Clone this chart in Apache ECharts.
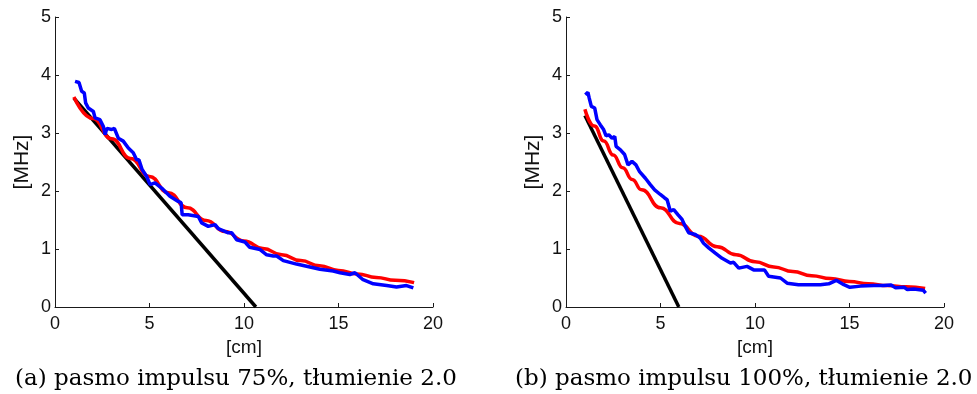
<!DOCTYPE html>
<html>
<head>
<meta charset="utf-8">
<script src="https://cdn.jsdelivr.net/npm/echarts@6/dist/echarts.min.js"></script>
<style>
html,body{margin:0;padding:0;background:#fff;}
#chart{width:977px;height:394px;}
</style>
</head>
<body>
<div id="chart"></div>
<script>
// ---- data ----
var xTicks = [0, 5, 10, 15, 20];
var yTicks = [0, 1, 2, 3, 4, 5];
var captionA = '(a) pasmo impulsu 75%, tłumienie 2.0';
var captionB = '(b) pasmo impulsu 100%, tłumienie 2.0';
var xName = '[cm]';
var yName = '[MHz]';

// panel (a)
var aBlueX = [1.06,1.27,1.41,1.55,1.62,1.76,2.03,2.12,2.38,2.56,2.65,2.74,3.00,3.14,3.35,3.61,3.88,4.14,4.32,4.44,4.61,4.85,5.03,5.29,5.64,6.08,6.52,6.67,6.73,7.05,7.58,7.76,8.11,8.47,8.64,9.17,9.35,9.61,10.05,10.30,10.85,11.20,11.55,11.73,12.08,12.78,13.49,14.02,14.72,15.08,15.60,15.87,16.30,16.84,17.55,18.07,18.60,18.96];
var aBlueY = [3.89,3.87,3.72,3.69,3.52,3.43,3.37,3.26,3.23,3.11,2.97,3.08,3.06,3.08,2.91,2.86,2.74,2.66,2.54,2.54,2.37,2.25,2.11,2.14,2.05,1.91,1.82,1.80,1.59,1.59,1.56,1.45,1.39,1.42,1.35,1.28,1.28,1.16,1.12,1.03,0.99,0.90,0.88,0.88,0.80,0.74,0.69,0.65,0.62,0.59,0.56,0.59,0.47,0.40,0.37,0.345,0.37,0.33];
var aRedX = [1,2,3,4,5,6,7,8,9,10,11,12,13,14,15,16,17,18,19];
var aRedY = [3.62,3.25,2.90,2.56,2.25,1.97,1.71,1.49,1.30,1.14,1.01,0.90,0.80,0.71,0.63,0.57,0.51,0.46,0.42];
var aBlackX = [1, 10.63];
var aBlackY = [3.60, 0];

// panel (b)
var bBlueX = [1.02,1.16,1.23,1.34,1.52,1.64,1.82,1.99,2.12,2.26,2.44,2.58,2.65,2.88,3.10,3.28,3.49,3.70,3.88,4.20,4.46,4.69,4.99,5.22,5.35,5.52,5.70,5.93,6.14,6.31,6.49,6.84,7.10,7.28,7.55,7.90,8.26,8.70,8.87,9.14,9.58,9.93,10.50,10.72,11.35,11.70,12.30,13.46,13.90,14.30,14.70,15.02,15.59,16.29,16.82,17.20,17.44,17.90,18.06,18.41,18.90,19.03];
var bBlueY = [3.66,3.70,3.60,3.46,3.43,3.23,3.14,3.06,2.95,2.97,2.91,2.94,2.77,2.71,2.63,2.45,2.51,2.45,2.34,2.22,2.11,2.02,1.94,1.88,1.85,1.65,1.68,1.59,1.51,1.39,1.28,1.25,1.19,1.10,1.02,0.93,0.84,0.76,0.77,0.67,0.70,0.64,0.64,0.53,0.50,0.41,0.385,0.385,0.40,0.46,0.385,0.34,0.36,0.37,0.37,0.38,0.33,0.34,0.30,0.31,0.29,0.24];
var bRedX = [1,1.5,2,2.5,3,3.5,4,5,6,7,8,9,10,11,12,13,14,15,16,17,18,19];
var bRedY = [3.41,3.12,2.86,2.62,2.40,2.20,2.02,1.71,1.44,1.22,1.04,0.90,0.78,0.69,0.61,0.54,0.49,0.44,0.40,0.37,0.35,0.32];
var bBlackX = [1, 5.97];
var bBlackY = [3.30, 0];

function pairs(xs, ys){ return xs.map(function(x,i){ return [x, ys[i]]; }); }

var axisColor = '#1a1a1a';
var tickFont = {fontFamily:'Liberation Sans, Arial, sans-serif', fontSize:18, color:'#111'};

function xAxis(gi){
  return {
    type:'value', gridIndex:gi, min:xTicks[0], max:xTicks[xTicks.length-1], interval:xTicks[1]-xTicks[0],
    name:xName, nameLocation:'middle', nameGap:25,
    nameTextStyle:{fontFamily:'Liberation Sans, Arial, sans-serif', fontSize:19, color:'#111'},
    axisLine:{show:true, onZero:false, lineStyle:{color:axisColor, width:1}},
    axisTick:{show:true, inside:true, length:4, lineStyle:{color:axisColor}},
    axisLabel:Object.assign({margin:8}, tickFont),
    splitLine:{show:false}
  };
}
function yAxis(gi){
  return {
    type:'value', gridIndex:gi, min:yTicks[0], max:yTicks[yTicks.length-1], interval:yTicks[1]-yTicks[0],
    name:yName, nameLocation:'middle', nameGap:22, nameRotate:90,
    nameTextStyle:{fontFamily:'Liberation Sans, Arial, sans-serif', fontSize:21, color:'#111'},
    axisLine:{show:true, onZero:false, lineStyle:{color:axisColor, width:1}},
    axisTick:{show:true, inside:true, length:4, lineStyle:{color:axisColor}},
    axisLabel:Object.assign({margin:4}, tickFont),
    splitLine:{show:false}
  };
}
function line(gi, data, color, z, smooth){
  return {type:'line', xAxisIndex:gi, yAxisIndex:gi, data:data, showSymbol:false, symbol:'none',
    smooth:smooth||false, smoothMonotone:'x', z:z, animation:false,
    lineStyle:{color:color, width:3.5}};
}

var chart = echarts.init(document.getElementById('chart'), null, {renderer:'canvas'});
chart.setOption({
  backgroundColor:'#ffffff',
  animation:false,
  grid:[
    {left:55, top:17, width:378, height:290, containLabel:false},
    {left:566, top:17, width:378, height:290, containLabel:false}
  ],
  xAxis:[xAxis(0), xAxis(1)],
  yAxis:[yAxis(0), yAxis(1)],
  series:[
    line(0, pairs(aBlackX,aBlackY), '#000000', 2),
    line(0, pairs(aRedX,aRedY), '#ff0000', 3, 0.5),
    line(0, pairs(aBlueX,aBlueY), '#0000ff', 4),
    line(1, pairs(bBlackX,bBlackY), '#000000', 2),
    line(1, pairs(bRedX,bRedY), '#ff0000', 3, 0.5),
    line(1, pairs(bBlueX,bBlueY), '#0000ff', 4)
  ],
  graphic:[
    {type:'text', left:15, top:368, style:{text:captionA, font:'23px "DejaVu Serif", serif', fill:'#000'}},
    {type:'text', left:515, top:368, style:{text:captionB, font:'23px "DejaVu Serif", serif', fill:'#000'}}
  ]
});
</script>
</body>
</html>
